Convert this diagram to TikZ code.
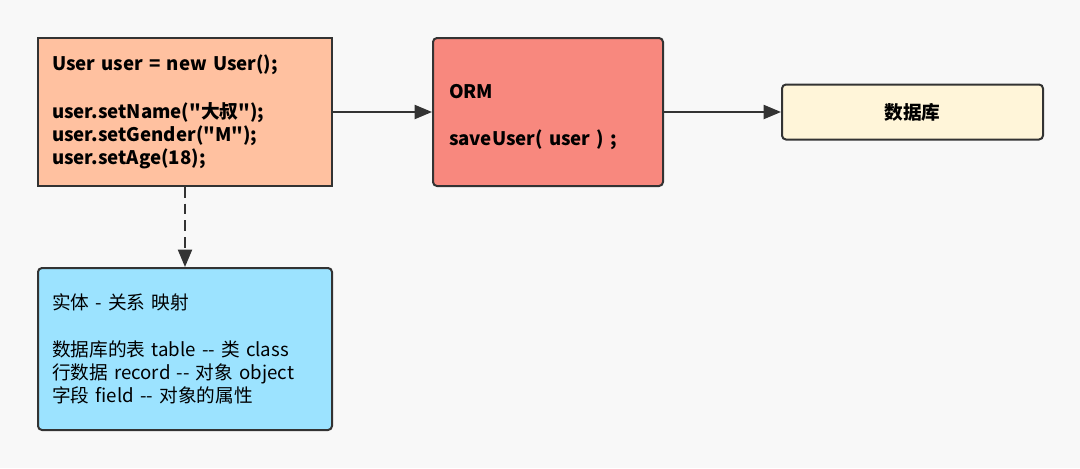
\documentclass[tikz,border=0pt]{standalone}
\usepackage{fontspec}
\setmainfont{Noto Sans CJK SC}[Ligatures=TeXOff]
\usepackage{xcolor}
\usepackage{tikz}
\usetikzlibrary{positioning, arrows.meta}
\definecolor{bggray}{HTML}{F8F8F8}
\definecolor{edgegray}{HTML}{333333}
\definecolor{codeorange}{HTML}{FFC1A0}
\definecolor{ormred}{HTML}{F8887E}
\definecolor{dbcream}{HTML}{FFF5D9}
\definecolor{noteblue}{HTML}{9CE3FF}

\begin{document}
\begin{tikzpicture}[x=0.75pt, y=-0.75pt,
  box/.style={draw=edgegray, line width=1.5pt, font=\fontsize{14}{17.25}\selectfont},
  boldbox/.style={box, font=\fontsize{14}{17.25}\selectfont\bfseries},
  link/.style={->, edgegray, line width=1.5pt},
  >={Triangle[length=13pt, width=10.5pt]}]
  \fill[bggray] (0,0) rectangle (1080,468);
  % code side
  \node[boldbox, fill=codeorange, align=left,
        text width=199.5pt, inner xsep=10.5pt, minimum width=220.5pt, minimum height=111pt] (code) at (185,112)
    {User user = new User();\\[19pt]user.setName("大叔");\\user.setGender("M");\\user.setAge(18);};
  % orm
  \node[boldbox, fill=ormred, rounded corners=3pt, align=left,
        text width=148.5pt, inner xsep=12pt, minimum width=172.5pt, minimum height=111pt] (orm) at (548,112)
    {\rule{0pt}{18pt}ORM\\[18pt]saveUser( user ) ;};
  % database
  \node[boldbox, fill=dbcream, rounded corners=3pt,
        minimum width=195.75pt, minimum height=41.25pt] (db) at (912.5,112) {数据库};
  % mapping note
  \node[box, fill=noteblue, rounded corners=3pt, align=left,
        text width=199.5pt, inner xsep=10.5pt, minimum width=220.5pt, minimum height=121.5pt] (note) at (185,349)
    {实体 - 关系 映射\\[18pt]数据库的表 table -- 类 class\\行数据 record -- 对象 object\\字段 field -- 对象的属性};
  % connections
  \draw[link] (code) -- (orm);
  \draw[link] (orm) -- (db);
  \draw[link, dash pattern=on 8pt off 4.5pt] (code) -- (note);
\end{tikzpicture}
\end{document}
